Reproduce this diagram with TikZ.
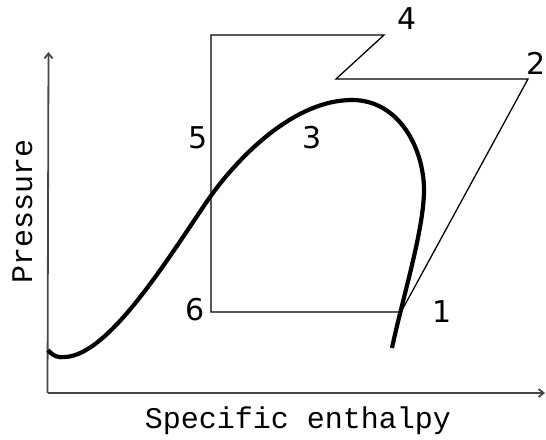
\documentclass[tikz,border=0pt]{standalone}
\usepackage{fontspec}
\usepackage{tikz}
\usetikzlibrary{arrows.meta}
\newfontfamily\digitfont{DejaVu Sans}
\newfontfamily\labelfont{Liberation Mono}
\definecolor{AxisGray}{RGB}{70,70,70}
\tikzset{
	statelabel/.style={anchor=base, inner sep=0pt, font=\digitfont\fontsize{30}{30}\selectfont},
	axislabel/.style={anchor=base, inner sep=0pt, font=\labelfont\fontsize{30}{30}\selectfont}
}

\begin{document}
\begin{tikzpicture}[x=1pt, y=-1pt]
	\useasboundingbox (0,0) rectangle (546,439);
	
	% 坐标轴
	\coordinate (O) at (47.5,393);
	\coordinate (X) at (545,393);
	\coordinate (Y) at (48.5,52);
	\draw[-{Straight Barb[length=5pt,width=8pt]}, AxisGray, line width=1.8pt] (O) -- (X);
	\draw[-{Straight Barb[length=5pt,width=8pt]}, AxisGray, line width=1.8pt] (O) -- (Y);
	\node[axislabel] (xlab) at (298,428) {Specific enthalpy};
	\node[axislabel, rotate=90] (ylab) at (32,211) {Pressure};
	
	% 饱和曲线
	\draw[line width=4.2pt] (48,350) .. controls (53,356) and (58,358) .. (65,357)
		.. controls (110,355) and (170,255) .. (210,197)
		.. controls (240,155) and (295,100) .. (352,100)
		.. controls (400,100) and (424,150) .. (424,190)
		.. controls (424,230) and (402,300) .. (392,348);
	
	% 循环各点
	\coordinate (P1) at (401,312);
	\coordinate (P2) at (528,79);
	\coordinate (K) at (336,79);
	\coordinate (P4) at (384,35);
	\coordinate (T) at (211,35);
	\coordinate (P6) at (211,312);
	
	\draw[line width=1.3pt, line join=miter] (P6) -- (T) -- (P4) -- (K) -- (P2) -- (P1) -- cycle;
	
	\node[statelabel] (n1) at (442,322) {1};
	\node[statelabel] (n2) at (536,74) {2};
	\node[statelabel] (n3) at (312,148) {3};
	\node[statelabel] (n4) at (407,29) {4};
	\node[statelabel] (n5) at (198,148) {5};
	\node[statelabel] (n6) at (195,320) {6};
\end{tikzpicture}
\end{document}
